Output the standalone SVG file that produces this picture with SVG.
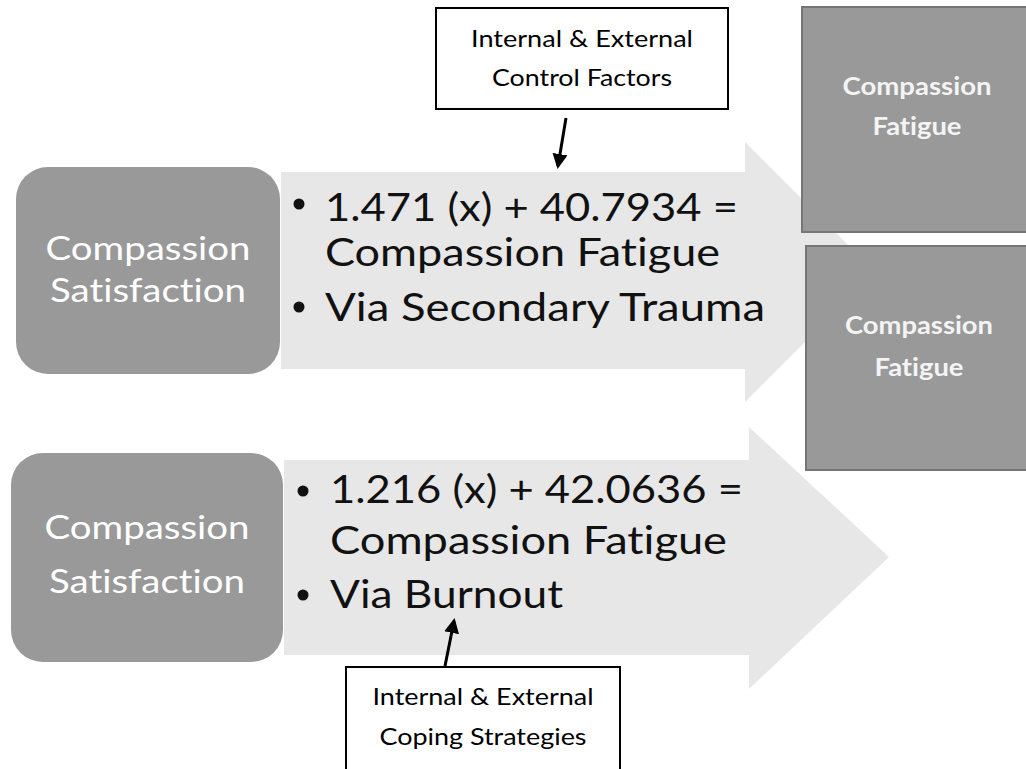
<svg xmlns="http://www.w3.org/2000/svg" width="1026" height="769" viewBox="0 0 1026 769">
<defs>
<style>
text{font-variant-ligatures:none}
.arrow{fill:#e7e7e7}
.rr{fill:#999999}
.sq{fill:#999999;stroke:#767676;stroke-width:2}
.box{fill:#ffffff;stroke:#000000;stroke-width:2}
.lbl{font-family:Lato,"Liberation Sans",sans-serif;fill:#ffffff;font-size:32px;text-anchor:middle}
.big{font-family:Lato,"Liberation Sans",sans-serif;fill:#111111;font-size:38px}
.sm{font-family:Lato,"Liberation Sans",sans-serif;fill:#000000;font-size:23px;text-anchor:middle}
.bold{font-family:Lato,"Liberation Sans",sans-serif;fill:#f4f4f4;font-size:24px;font-weight:bold;text-anchor:middle}
.conn{stroke:#000000;stroke-width:3;fill:none}
</style>
<marker id="ah" viewBox="0 0 10 10" refX="8" refY="5" markerWidth="5" markerHeight="5" orient="auto" markerUnits="strokeWidth">
<path d="M0,0 L10,5 L0,10 z" fill="#000000"/>
</marker>
</defs>
<rect width="1026" height="769" fill="#ffffff"/>

<g id="arrow-top">
<path class="arrow" d="M281,172 H745 V142 L875,272 L745,402 V369 H281 Z"/>
<circle cx="299" cy="204" r="5.5" fill="#111"/>
<circle cx="299" cy="307" r="5.5" fill="#111"/>
<text class="big" x="325" y="221" textLength="413" lengthAdjust="spacingAndGlyphs">1.471 (x) + 40.7934 =</text>
<text class="big" x="325" y="266" textLength="395" lengthAdjust="spacingAndGlyphs">Compassion Fatigue</text>
<text class="big" x="325" y="321" textLength="440" lengthAdjust="spacingAndGlyphs">Via Secondary Trauma</text>
</g>

<g id="arrow-bottom">
<path class="arrow" d="M284,460 H749 V427 L889,557 L749,689 V655 H284 Z"/>
<circle cx="303" cy="491" r="5.5" fill="#111"/>
<circle cx="303" cy="595" r="5.5" fill="#111"/>
<text class="big" x="330" y="503" textLength="413" lengthAdjust="spacingAndGlyphs">1.216 (x) + 42.0636 =</text>
<text class="big" x="330" y="554" textLength="397" lengthAdjust="spacingAndGlyphs">Compassion Fatigue</text>
<text class="big" x="330" y="608" textLength="233" lengthAdjust="spacingAndGlyphs">Via Burnout</text>
</g>

<g id="cs-top">
<rect class="rr" x="16" y="167" width="264" height="207" rx="32"/>
<text class="lbl" x="148" y="260" textLength="205" lengthAdjust="spacingAndGlyphs">Compassion</text>
<text class="lbl" x="148" y="302" textLength="196" lengthAdjust="spacingAndGlyphs">Satisfaction</text>
</g>

<g id="cs-bottom">
<rect class="rr" x="11" y="453" width="272" height="209" rx="32"/>
<text class="lbl" x="147" y="539" textLength="205" lengthAdjust="spacingAndGlyphs">Compassion</text>
<text class="lbl" x="147" y="593" textLength="196" lengthAdjust="spacingAndGlyphs">Satisfaction</text>
</g>

<g id="cf-top">
<rect class="sq" x="802" y="7" width="230" height="225"/>
<text class="bold" x="917" y="95" textLength="149" lengthAdjust="spacingAndGlyphs">Compassion</text>
<text class="bold" x="917" y="135" textLength="89" lengthAdjust="spacingAndGlyphs">Fatigue</text>
</g>

<g id="cf-bottom">
<rect class="sq" x="806" y="246" width="226" height="224"/>
<text class="bold" x="919" y="334" textLength="148" lengthAdjust="spacingAndGlyphs">Compassion</text>
<text class="bold" x="919" y="376" textLength="89" lengthAdjust="spacingAndGlyphs">Fatigue</text>
</g>

<g id="control-factors">
<rect class="box" x="436" y="8" width="292" height="101"/>
<text class="sm" x="582" y="47" textLength="222" lengthAdjust="spacingAndGlyphs">Internal &amp; External</text>
<text class="sm" x="582" y="86" textLength="180" lengthAdjust="spacingAndGlyphs">Control Factors</text>
</g>

<g id="coping-strategies">
<rect class="box" x="346" y="667" width="274" height="120"/>
<text class="sm" x="483" y="705" textLength="221" lengthAdjust="spacingAndGlyphs">Internal &amp; External</text>
<text class="sm" x="483" y="745" textLength="207" lengthAdjust="spacingAndGlyphs">Coping Strategies</text>
</g>

<g id="connectors">
<line class="conn" x1="566" y1="118" x2="558" y2="166" marker-end="url(#ah)"/>
<line class="conn" x1="445" y1="666" x2="454" y2="621" marker-end="url(#ah)"/>
</g>
</svg>
